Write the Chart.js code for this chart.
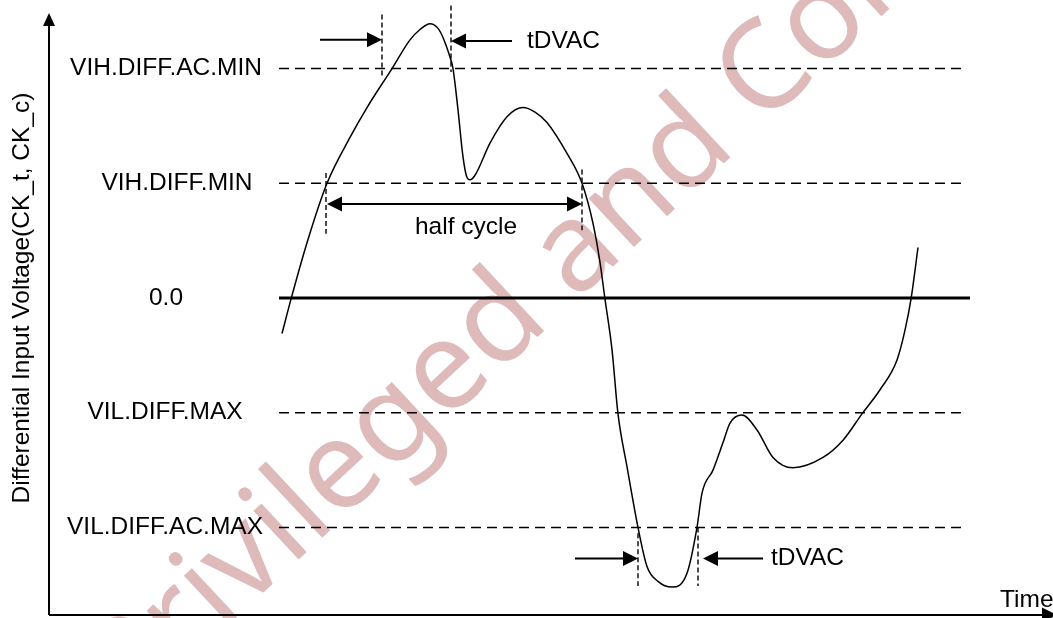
<!DOCTYPE html>
<html>
<head>
<meta charset="utf-8">
<script src="https://cdn.jsdelivr.net/npm/chart.js@4"></script>
<style>
  html, body { margin: 0; padding: 0; background: #fff; }
</style>
</head>
<body>
<canvas id="diffChart" width="1053" height="618"></canvas>
<script>
// differential clock waveform (time in arbitrary units, voltage in threshold steps)
const curveTime = [23.3, 24.2, 25.9, 27.8, 30.1, 31.8, 34.3, 36.1, 37.1, 38.1, 38.9, 39.4, 40.1, 40.4, 40.9, 41.4, 41.8, 42.1, 42.6,
  44.1, 45.8, 47.4, 48.6, 49.8, 51.8, 53.3, 54.4, 55.1, 55.6, 56.3, 56.9, 57.8, 58.9, 59.8, 60.9, 62.3, 63.8, 64.8,
  65.3, 66.4, 67.4, 68.1, 69.3, 70.8, 72.4, 74.4, 77.4, 79.4, 81.3, 83.1, 84.8, 85.6, 86.2, 86.9];
const curveVolt = [-0.31, -0.01, 0.51, 1.00, 1.40, 1.66, 2.00, 2.25, 2.34, 2.39, 2.35, 2.27, 2.10, 2.00, 1.64, 1.23, 1.05, 1.03, 1.07,
  1.35, 1.58, 1.66, 1.62, 1.53, 1.26, 1.00, 0.65, 0.31, -0.01, -0.45, -1.01, -1.47, -2.00, -2.34, -2.47, -2.52, -2.40, -2.00,
  -1.70, -1.50, -1.26, -1.09, -1.02, -1.15, -1.39, -1.48, -1.39, -1.24, -1.01, -0.80, -0.54, -0.28, -0.01, 0.44];

const levelNames = ['VIH.DIFF.AC.MIN', 'VIH.DIFF.MIN', '0.0', 'VIL.DIFF.MAX', 'VIL.DIFF.AC.MAX'];
const levelValues = [2, 1, 0, -1, -2];
const levelSpan = [23.0, 91.6];
const zeroSpan = [23.0, 92.1];

// short vertical dashed markers
const markerTime = [33.3, 40.2, 27.7, 53.3, 58.9, 64.9];
const markerTop = [2.47, 2.55, 1.09, 1.12, -2.05, -2.00];
const markerBottom = [1.94, 1.97, 0.56, 0.59, -2.51, -2.51];

// single arrows (from -> to, at a voltage)
const arrowFrom = [27.1, 46.3, 52.6, 71.4];
const arrowTo = [33.3, 40.2, 58.9, 65.4];
const arrowVolt = [2.25, 2.24, -2.27, -2.27];
const halfCycle = [27.8, 53.3];
const halfCycleVolt = 0.82;

const notes = [
  { text: 'tDVAC', t: 47.8, v: 2.24, align: 'left' },
  { text: 'half cycle', t: 41.7, v: 0.62, align: 'center' },
  { text: 'tDVAC', t: 72.2, v: -2.27, align: 'left' }
];

const FONT = '24.5px "Liberation Sans", Arial, sans-serif';
const labelCenters = [166, 177, 166, 165, 165];

const datasets = [];
datasets.push({
  data: curveTime.map((t, i) => ({ x: t, y: curveVolt[i] })),
  borderColor: '#000', borderWidth: 1.5, cubicInterpolationMode: 'monotone'
});
levelValues.forEach((v) => {
  const span = v === 0 ? zeroSpan : levelSpan;
  datasets.push({
    data: [{ x: span[0], y: v }, { x: span[1], y: v }],
    borderColor: '#000',
    borderWidth: v === 0 ? 3 : 1.5,
    borderDash: v === 0 ? [] : [10, 6]
  });
});
markerTime.forEach((t, i) => {
  datasets.push({
    data: [{ x: t, y: markerTop[i] }, { x: t, y: markerBottom[i] }],
    borderColor: '#000', borderWidth: 1.4, borderDash: [5, 3]
  });
});
datasets.forEach(d => { d.pointRadius = 0; d.clip = false; d.fill = false; });

function arrowHead(ctx, x, y, dir) {
  ctx.beginPath();
  ctx.moveTo(x, y);
  ctx.lineTo(x - dir * 15, y - 7.5);
  ctx.lineTo(x - dir * 15, y + 7.5);
  ctx.closePath();
  ctx.fill();
}

const watermark = {
  id: 'watermark',
  beforeDraw(chart) {
    const ctx = chart.ctx;
    ctx.save();
    ctx.font = '124px "Noto Sans", sans-serif';
    ctx.fillStyle = 'rgb(222,186,186)';
    const ang = -43 * Math.PI / 180;
    const w = ctx.measureText('Privileged and').width;
    const sx = 738 - w * Math.cos(ang), sy = 150 - w * Math.sin(ang);
    ctx.translate(sx, sy);
    ctx.rotate(ang);
    ctx.fillText('Privileged and Confidential', 0, 0);
    ctx.restore();
  }
};

const decorations = {
  id: 'decorations',
  afterDatasetsDraw(chart) {
    const ctx = chart.ctx;
    const xs = chart.scales.x, ys = chart.scales.y;
    const ca = chart.chartArea;
    ctx.save();
    ctx.strokeStyle = '#000';
    ctx.fillStyle = '#000';

    // axes with arrows
    ctx.lineWidth = 2;
    ctx.beginPath();
    ctx.moveTo(ca.left, ca.bottom);
    ctx.lineTo(ca.left, ca.top + 10);
    ctx.moveTo(ca.left, ca.bottom);
    ctx.lineTo(ca.right - 8, ca.bottom);
    ctx.stroke();
    ctx.beginPath();
    ctx.moveTo(ca.left, ca.top);
    ctx.lineTo(ca.left - 6, ca.top + 13);
    ctx.lineTo(ca.left + 6, ca.top + 13);
    ctx.closePath();
    ctx.fill();
    arrowHead(ctx, ca.right + 4, ca.bottom, 1);

    // arrows
    ctx.lineWidth = 2;
    arrowFrom.forEach((f, i) => {
      const x0 = xs.getPixelForValue(f), x1 = xs.getPixelForValue(arrowTo[i]);
      const y = ys.getPixelForValue(arrowVolt[i]);
      const dir = x1 > x0 ? 1 : -1;
      ctx.beginPath();
      ctx.moveTo(x0, y);
      ctx.lineTo(x1 - dir * 10, y);
      ctx.stroke();
      arrowHead(ctx, x1, y, dir);
    });
    const ha = xs.getPixelForValue(halfCycle[0]), hb = xs.getPixelForValue(halfCycle[1]);
    const hy = ys.getPixelForValue(halfCycleVolt);
    ctx.beginPath();
    ctx.moveTo(ha + 10, hy);
    ctx.lineTo(hb - 10, hy);
    ctx.stroke();
    arrowHead(ctx, ha, hy, -1);
    arrowHead(ctx, hb, hy, 1);

    // texts
    ctx.font = FONT;
    ctx.textBaseline = 'middle';
    ctx.textAlign = 'center';
    levelNames.forEach((name, i) => {
      ctx.fillText(name, labelCenters[i], ys.getPixelForValue(levelValues[i]));
    });
    notes.forEach(n => {
      ctx.textAlign = n.align;
      ctx.fillText(n.text, xs.getPixelForValue(n.t), ys.getPixelForValue(n.v));
    });
    ctx.textAlign = 'left';
    ctx.textBaseline = 'alphabetic';
    ctx.fillText('Time', 1000, ca.bottom - 8);

    ctx.translate(22, ys.getPixelForValue(0));
    ctx.rotate(-Math.PI / 2);
    ctx.textAlign = 'center';
    ctx.textBaseline = 'middle';
    ctx.fillText('Differential Input Voltage(CK_t, CK_c)', 0, 0);
    ctx.restore();
  }
};

new Chart(document.getElementById('diffChart').getContext('2d'), {
  type: 'line',
  data: { datasets: datasets },
  options: {
    responsive: false,
    animation: false,
    devicePixelRatio: 1,
    layout: { padding: { left: 49, top: 13, right: 0, bottom: 3 } },
    scales: {
      x: { type: 'linear', min: 0, max: 100.4, display: false },
      y: { type: 'linear', min: -2.763, max: 2.484, display: false }
    },
    plugins: { legend: { display: false }, tooltip: { enabled: false } },
    events: []
  },
  plugins: [watermark, decorations]
});
</script>
</body>
</html>
